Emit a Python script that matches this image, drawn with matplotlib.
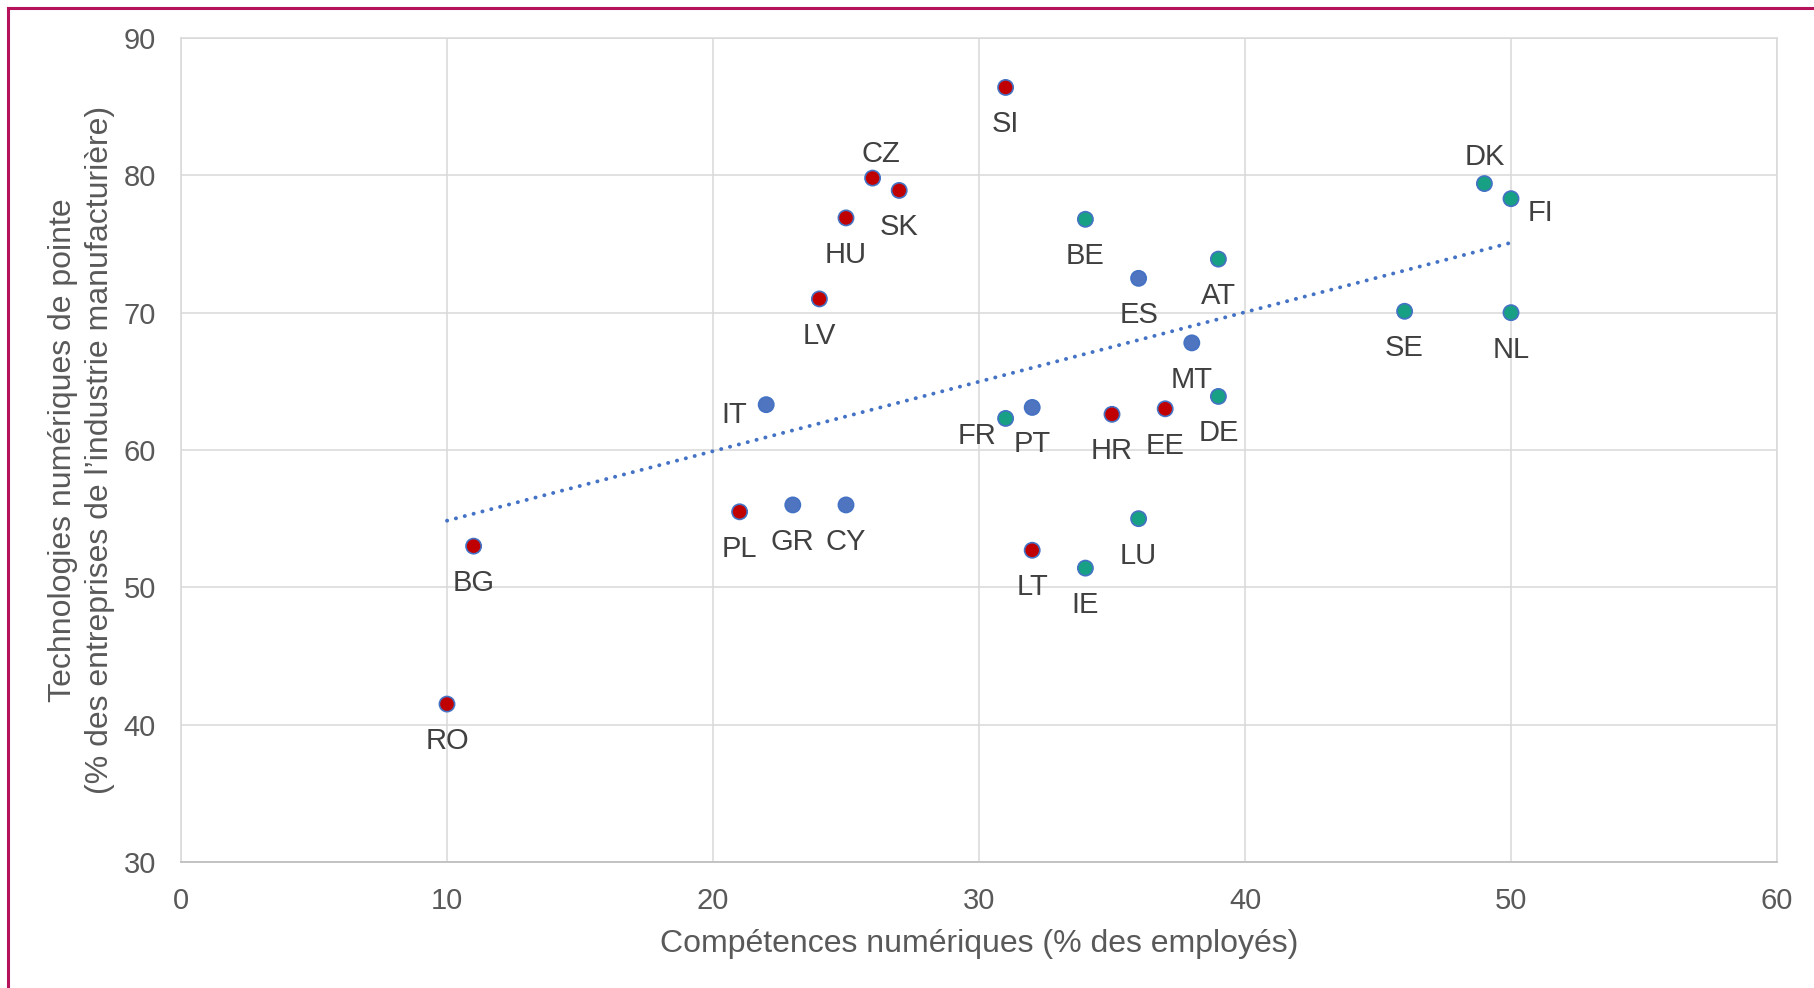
import numpy as np
import matplotlib.pyplot as plt
from matplotlib.lines import Line2D

plt.rcParams["font.family"] = ["Liberation Sans", "DejaVu Sans"]

# ── Données ──
pays = ["RO", "BG", "PL", "GR", "CY", "IT", "LV", "HU", "CZ", "SK", "SI",
        "BE", "ES", "AT", "MT", "FR", "PT", "HR", "EE", "DE", "LT", "IE",
        "LU", "DK", "FI", "SE", "NL"]
competences = [10, 11, 21, 23, 25, 22, 24, 25, 26, 27, 31,
               34, 36, 39, 38, 31, 32, 35, 37, 39, 32, 34,
               36, 49, 50, 46, 50]
technologies = [41.5, 53.0, 55.5, 56.0, 56.0, 63.3, 71.0, 76.9, 79.8, 78.9, 86.4,
                76.8, 72.5, 73.9, 67.8, 62.3, 63.1, 62.6, 63.0, 63.9, 52.7, 51.4,
                55.0, 79.4, 78.3, 70.1, 70.0]
groupe = ["r", "r", "r", "b", "b", "b", "r", "r", "r", "r", "r",
          "g", "b", "g", "b", "g", "b", "r", "r", "g", "r", "g",
          "g", "g", "g", "g", "g"]

COULEURS = {"r": "#C00000", "b": "#4F75C0", "g": "#17A083"}
BORD = "#4472C4"

# décalage des étiquettes (pixels) ; par défaut en dessous
DEFAUT = (0, -37)
DECALAGES = {"IT": (-32, -10), "CZ": (8, 24), "FR": (-29, -18),
             "DK": (0, 27), "FI": (29, -14)}

fig = plt.figure(figsize=(18.14, 9.88), dpi=100)
ax = fig.add_axes([181 / 1814, 1 - 862 / 988, (1777 - 181) / 1814, (862 - 38) / 988])

# ── Courbe de tendance ──
x = np.array(competences, dtype=float)
y = np.array(technologies, dtype=float)
a, b = np.polyfit(x, y, 1)
xt = np.array([x.min(), x.max()])
ax.plot(xt, a * xt + b, color=BORD, lw=2.8, ls=(0, (0.05, 2.3)),
        dash_capstyle="round", zorder=2)

# ── Points ──
ax.scatter(competences, technologies, s=120,
           c=[COULEURS[g] for g in groupe], edgecolors=BORD,
           linewidths=1.2, zorder=3)

for p, xi, yi in zip(pays, competences, technologies):
    dx, dy = DECALAGES.get(p, DEFAUT)
    ax.annotate(p, (xi, yi), xytext=(dx, dy), textcoords="offset pixels",
                ha="center", va="center", fontsize=21, color="#404040",
                zorder=4)

ax.set_xlim(0, 60)
ax.set_ylim(30, 90)
ax.set_xticks(range(0, 61, 10))
ax.set_yticks(range(30, 91, 10))
ax.grid(True, color="#D9D9D9", lw=1.1)
ax.set_axisbelow(True)
for s in ["top", "right", "left"]:
    ax.spines[s].set_color("#D9D9D9")
    ax.spines[s].set_linewidth(1.1)
ax.spines["bottom"].set_color("#BFBFBF")
ax.spines["bottom"].set_linewidth(1.3)
ax.tick_params(length=0, labelsize=21, labelcolor="#595959")
ax.tick_params(axis="y", pad=18)
ax.tick_params(axis="x", pad=18)

ax.set_xlabel("Compétences numériques (% des employés)", fontsize=23,
              color="#595959", labelpad=10)
ax.set_ylabel("Technologies numériques de pointe\n"
              "(% des entreprises de l’industrie manufacturière)",
              fontsize=23, color="#595959", labelpad=6, linespacing=1.3)

# ── Cadre ──
cadre = "#B5135C"
fig.add_artist(Line2D([8 / 1814, 1], [1 - 8 / 988, 1 - 8 / 988],
                      color=cadre, lw=2.2, transform=fig.transFigure))
fig.add_artist(Line2D([8 / 1814, 8 / 1814], [0, 1 - 8 / 988],
                      color=cadre, lw=2.2, transform=fig.transFigure))

fig.savefig("out.png", dpi=100)
